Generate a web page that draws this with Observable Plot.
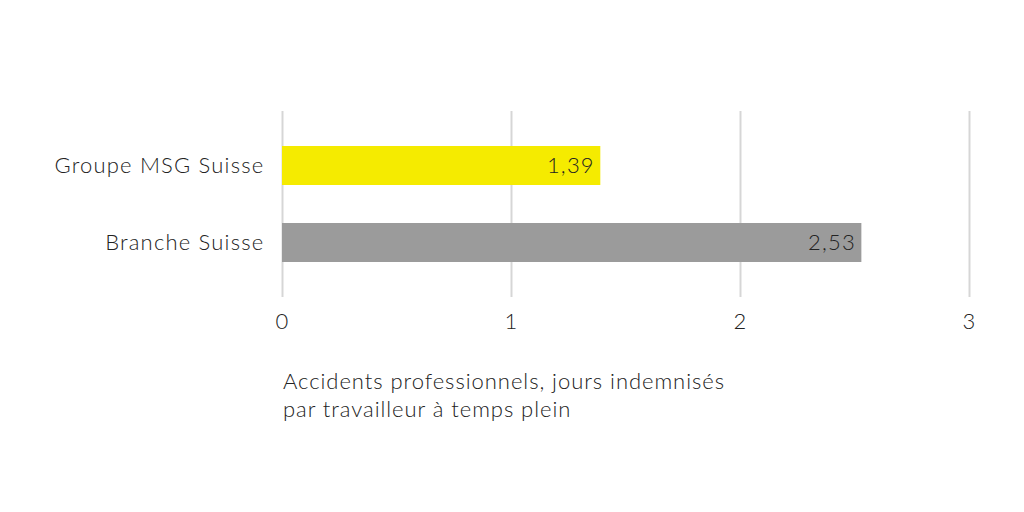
<!DOCTYPE html>
<html>
<head>
<meta charset="utf-8">
<script src="https://cdn.jsdelivr.net/npm/d3@7"></script>
<script src="https://cdn.jsdelivr.net/npm/@observablehq/plot@0.6"></script>
<style>
  html, body { margin: 0; padding: 0; background: #fff; }
  body { width: 1024px; height: 512px; overflow: hidden; font-family: Lato, sans-serif; font-weight: 300; color: #222; }
  #caption { margin-left: 283px; margin-top: 17px; font-size: 22px; line-height: 28px; letter-spacing: 0.95px; color: #222; }
</style>
</head>
<body>
<div id="chart"></div>
<div id="caption">Accidents professionnels, jours indemnisés<br>par travailleur à temps plein</div>
<script>
const categories = ["Groupe MSG Suisse", "Branche Suisse"];
const values = [1.39, 2.53];
const colors = ["#f5eb00", "#9b9b9b"];
const xTicks = [0, 1, 2, 3];

const data = categories.map((c, i) => ({category: c, value: values[i], color: colors[i]}));
const fmt = v => v.toFixed(2).replace(".", ",");

const chart = Plot.plot({
  width: 1024,
  height: 350,
  marginTop: 111,
  marginBottom: 53,
  marginLeft: 282,
  marginRight: 55,
  style: {fontFamily: "Lato, sans-serif", fontWeight: 300, fontSize: "22px", letterSpacing: "1.2px", color: "#222", background: "#fff"},
  x: {domain: [0, 3], ticks: xTicks, tickSize: 0, tickPadding: 16, tickFormat: d => String(d), label: null},
  y: {domain: categories, paddingInner: 0.5, paddingOuter: 0.45, tickSize: 0, tickPadding: 18, label: null},
  marks: [
    Plot.gridX(xTicks, {stroke: "#d6d6d6", strokeOpacity: 1, strokeWidth: 2}),
    Plot.barX(data, {y: "category", x: "value", fill: "color"}),
    Plot.text(data, {y: "category", x: "value", text: d => fmt(d.value), textAnchor: "end", dx: -6, fill: "#222", fontSize: 22}),
    Plot.axisY({tickSize: 0, tickPadding: 18, fontSize: 22}),
    Plot.axisX({ticks: xTicks, tickSize: 0, tickPadding: 16, fontSize: 22, tickFormat: d => String(d)})
  ]
});
document.getElementById("chart").appendChild(chart);
</script>
</body>
</html>
